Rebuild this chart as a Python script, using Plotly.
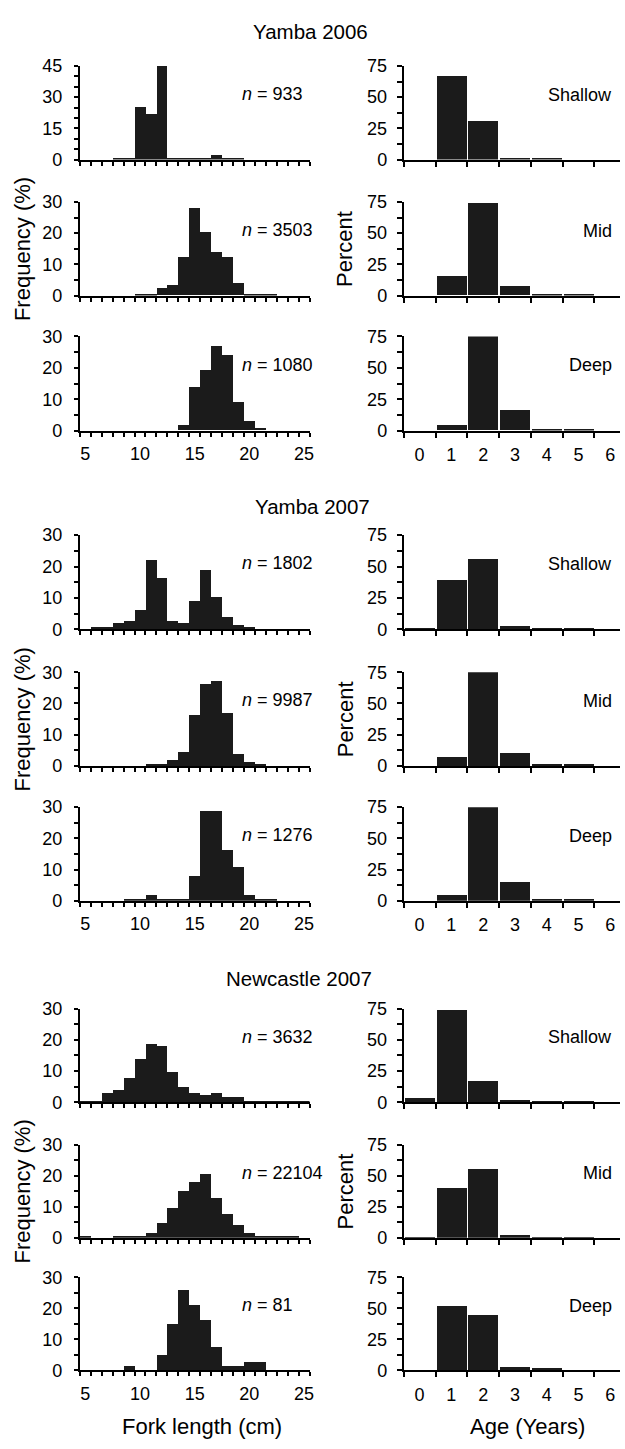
import plotly.graph_objects as go

W, H = 625, 1449
FONT = "Liberation Sans, Arial, Helvetica, sans-serif"
BAR = "#1b1b1b"

# ---------------- data ----------------
length_bins = list(range(5, 26))          # fork length classes (cm)
age_classes = list(range(0, 7))           # age classes (years)
length_ticks = [5, 10, 15, 20, 25]

# Yamba 2006 - length frequency (%)
y06_len_shallow = [0, 0, 0, 1.0, 1.0, 25.5, 21.8, 45.0, 1.0, 1.0, 1.0, 1.0, 2.2, 1.0, 1.0, 0, 0, 0, 0, 0, 0]
y06_len_mid = [0, 0, 0, 0, 0, 0.5, 0.5, 2.4, 3.5, 12.4, 28.0, 20.3, 13.9, 12.4, 4.1, 0.5, 0.5, 0.5, 0, 0, 0]
y06_len_deep = [0, 0, 0, 0, 0, 0, 0, 0, 0, 1.8, 13.7, 19.2, 26.8, 24.0, 9.0, 3.0, 0.7, 0, 0, 0, 0]
# Yamba 2007 - length frequency (%)
y07_len_shallow = [0, 0.8, 0.8, 1.9, 2.6, 6.1, 22.1, 16.3, 2.6, 1.9, 9.1, 18.7, 10.3, 3.8, 1.4, 0.8, 0, 0, 0, 0, 0]
y07_len_mid = [0, 0, 0, 0, 0, 0, 0.5, 0.6, 1.9, 4.3, 16.3, 26.3, 27.0, 16.9, 3.6, 1.2, 0.5, 0, 0, 0, 0]
y07_len_deep = [0, 0, 0, 0, 0.6, 0.6, 1.9, 0.6, 0.6, 0.6, 7.9, 28.7, 28.7, 16.1, 10.8, 1.9, 0.7, 0.7, 0, 0, 0]
# Newcastle 2007 - length frequency (%)
n07_len_shallow = [0.7, 0.7, 3.2, 4.2, 7.9, 13.9, 18.7, 18.1, 9.7, 4.9, 3.2, 2.4, 3.2, 1.9, 1.9, 0.7, 0.7, 0.7, 0.7, 0.7, 0.7]
n07_len_mid = [0.7, 0, 0, 0.7, 0.7, 0.7, 1.8, 4.8, 9.6, 15.1, 18.0, 20.7, 12.8, 7.9, 4.3, 1.8, 0.7, 0.7, 0.7, 0.7, 0]
n07_len_deep = [0, 0, 0, 0, 1.2, 0, 0, 4.9, 14.8, 25.9, 21.0, 16.0, 7.4, 1.2, 1.2, 2.5, 2.5, 0, 0, 0, 0]

# age composition (%)
y06_age_shallow = [0, 67.0, 31.0, 1.0, 1.0, 0, 0]
y06_age_mid = [0, 16.0, 74.5, 7.5, 1.0, 1.0, 0]
y06_age_deep = [0, 4.2, 77.0, 16.2, 1.0, 1.0, 0]
y07_age_shallow = [1.0, 39.0, 55.5, 2.5, 1.0, 1.0, 0]
y07_age_mid = [0, 7.3, 80.0, 10.3, 1.0, 1.0, 0]
y07_age_deep = [0, 4.2, 79.0, 14.9, 1.0, 1.0, 0]
n07_age_shallow = [4.0, 74.5, 17.5, 2.5, 1.0, 1.0, 0]
n07_age_mid = [0.8, 40.0, 55.5, 2.2, 0.8, 0.8, 0]
n07_age_deep = [0, 52.0, 44.5, 2.5, 1.0, 0, 0]

sample_sizes = ["933", "3503", "1080", "1802", "9987", "1276", "3632", "22104", "81"]
depths = ["Shallow", "Mid", "Deep"]
group_titles = ["Yamba 2006", "Yamba 2007", "Newcastle 2007"]

length_series = [y06_len_shallow, y06_len_mid, y06_len_deep,
                 y07_len_shallow, y07_len_mid, y07_len_deep,
                 n07_len_shallow, n07_len_mid, n07_len_deep]
age_series = [y06_age_shallow, y06_age_mid, y06_age_deep,
              y07_age_shallow, y07_age_mid, y07_age_deep,
              n07_age_shallow, n07_age_mid, n07_age_deep]

# ---------------- layout geometry (pixels) ----------------
row_px = [(56.7, 151.7), (194.7, 289.5), (331.0, 426.5),
          (532.5, 628.0), (671.5, 766.5), (808.3, 903.3),
          (1012.5, 1107.5), (1150.5, 1245.0), (1285.0, 1379.3)]
left_px = (80.5, 312.0)
right_px = (407.0, 625.0)
title_pos = [(313, 22), (315, 503), (301, 982)]


def px_x(p):
    return p / W


def px_y(p):
    return 1 - p / H


fig = go.Figure()
layout = dict(
    width=W, height=H,
    margin=dict(l=0, r=0, t=0, b=0),
    paper_bgcolor="white", plot_bgcolor="white",
    showlegend=False,
    font=dict(family=FONT, size=18, color="black"),
    bargap=0,
)
annotations = []

axis_common = dict(showgrid=False, zeroline=False, showline=True,
                   linecolor="black", linewidth=2, fixedrange=True,
                   tickfont=dict(family=FONT, size=18, color="black"))

for r in range(9):
    top, bot = row_px[r]
    ydom = [px_y(bot), px_y(top)]
    bottom_row = (r % 3 == 2)
    ymax_len = 45 if r == 0 else 30
    ystep = 15 if r == 0 else 10

    # ---- length-frequency panel ----
    i = 2 * r + 1
    fig.add_trace(go.Bar(x=length_bins, y=length_series[r], width=1,
                         marker=dict(color=BAR, line=dict(width=0)),
                         xaxis=f"x{i}", yaxis=f"y{i}", hoverinfo="skip"))
    layout[f"xaxis{i}"] = dict(
        axis_common, domain=[px_x(left_px[0]), px_x(left_px[1])], anchor=f"y{i}",
        range=[4.5, 25.5], tickmode="array", tickvals=length_ticks,
        ticks="", showticklabels=bottom_row, ticklabelstandoff=6,
        minor=dict(tickmode="array", tickvals=[b - 0.5 for b in length_bins] + [25.5],
                   ticks="outside", ticklen=4, tickwidth=2, tickcolor="black"))
    minor_y = [5, 10, 20, 25, 35, 40] if r == 0 else [5, 15, 25]
    layout[f"yaxis{i}"] = dict(
        axis_common, domain=ydom, anchor=f"x{i}", range=[0, ymax_len],
        tickmode="array", tickvals=list(range(0, ymax_len + 1, ystep)),
        ticks="outside", ticklen=4, tickwidth=2, tickcolor="black",
        ticklabelstandoff=8,
        minor=dict(tickmode="array", tickvals=minor_y,
                   ticks="outside", ticklen=4, tickwidth=2, tickcolor="black"))
    annotations.append(dict(
        x=19.1, y=0.70 * ymax_len, xref=f"x{i}", yref=f"y{i}",
        text=f"<i>n</i> = {sample_sizes[r]}", showarrow=False,
        xanchor="left", yanchor="middle", font=dict(size=18)))

    # ---- age panel ----
    j = 2 * r + 2
    fig.add_trace(go.Bar(x=age_classes, y=age_series[r], width=0.95,
                         marker=dict(color=BAR, line=dict(width=0)),
                         xaxis=f"x{j}", yaxis=f"y{j}", hoverinfo="skip"))
    layout[f"xaxis{j}"] = dict(
        axis_common, domain=[px_x(right_px[0]), px_x(right_px[1])], anchor=f"y{j}",
        range=[-0.5, 6.31], tickmode="array", tickvals=age_classes,
        ticks="", showticklabels=bottom_row, ticklabelstandoff=7,
        minor=dict(tickmode="array", tickvals=[a - 0.5 for a in age_classes],
                   ticks="outside", ticklen=5, tickwidth=2, tickcolor="black"))
    layout[f"yaxis{j}"] = dict(
        axis_common, domain=ydom, anchor=f"x{j}", range=[0, 75],
        tickmode="array", tickvals=[0, 25, 50, 75],
        ticks="outside", ticklen=5, tickwidth=2, tickcolor="black",
        ticklabelstandoff=6,
        minor=dict(tickmode="array", tickvals=[12.5, 37.5, 62.5],
                   ticks="outside", ticklen=5, tickwidth=2, tickcolor="black"))
    annotations.append(dict(
        x=6.12, y=52, xref=f"x{j}", yref=f"y{j}",
        text=depths[r % 3], showarrow=False,
        xanchor="right", yanchor="middle", font=dict(size=18)))

# group titles and shared axis titles
for g in range(3):
    tx, ty = title_pos[g]
    annotations.append(dict(x=px_x(tx), y=px_y(ty), xref="paper", yref="paper",
                            text=group_titles[g], showarrow=False,
                            xanchor="center", yanchor="middle", font=dict(size=20.5)))
    mid_top, mid_bot = row_px[3 * g + 1]
    cy = (mid_top + mid_bot) / 2
    annotations.append(dict(x=px_x(22.5), y=px_y(cy), xref="paper", yref="paper",
                            text="Frequency (%)", textangle=-90, showarrow=False,
                            xanchor="center", yanchor="middle", font=dict(size=22)))
    annotations.append(dict(x=px_x(348), y=px_y(cy), xref="paper", yref="paper",
                            text="Percent", textangle=-90, showarrow=False,
                            xanchor="center", yanchor="middle", font=dict(size=22)))

annotations.append(dict(x=px_x(204), y=px_y(1436.5), xref="paper", yref="paper",
                        text="Fork length (cm)", showarrow=False,
                        xanchor="center", yanchor="middle", font=dict(size=22)))
annotations.append(dict(x=px_x(531.5), y=px_y(1436.5), xref="paper", yref="paper",
                        text="Age (Years)", showarrow=False,
                        xanchor="center", yanchor="middle", font=dict(size=22)))

layout["annotations"] = annotations
fig.update_layout(**layout)
fig.write_html("out.html")
